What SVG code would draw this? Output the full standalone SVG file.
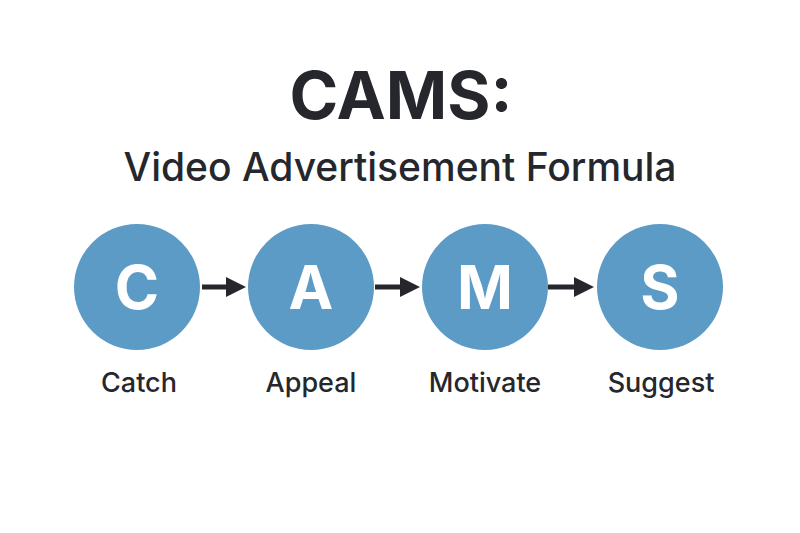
<svg xmlns="http://www.w3.org/2000/svg" width="800" height="533" viewBox="0 0 800 533">
<style>
text{font-family:Inter,"Liberation Sans",sans-serif;fill:#25272c;text-anchor:middle}
.c{fill:#5b9bc5}
.l{fill:#fff;font-size:60px;font-weight:700}
.n{font-size:27px;font-weight:500}
.a{stroke:#25272c;stroke-width:5}
</style>
<defs><marker id="h" markerWidth="4" markerHeight="4" refX="2" refY="2" orient="auto"><path d="M0,0L4,2L0,4z" fill="#25272c"/></marker></defs>
<rect width="800" height="533" fill="#fff"/>
<text x="401" y="119" font-size="66" font-weight="700">CAMS:</text>
<text x="400" y="181" font-size="39" font-weight="500">Video Advertisement Formula</text>
<g id="connectors">
<line class="a" x1="202" y1="287" x2="236" y2="287" marker-end="url(#h)"/>
<line class="a" x1="375" y1="287" x2="410" y2="287" marker-end="url(#h)"/>
<line class="a" x1="548" y1="287" x2="584" y2="287" marker-end="url(#h)"/>
</g>
<g id="catch"><circle class="c" cx="137" cy="287" r="63"/><text class="l" x="137" y="309">C</text><text class="n" x="139" y="392">Catch</text></g>
<g id="appeal"><circle class="c" cx="311" cy="287" r="63"/><text class="l" x="311" y="309">A</text><text class="n" x="311" y="392">Appeal</text></g>
<g id="motivate"><circle class="c" cx="485" cy="287" r="63"/><text class="l" x="485" y="309">M</text><text class="n" x="485" y="392">Motivate</text></g>
<g id="suggest"><circle class="c" cx="660" cy="287" r="63"/><text class="l" x="660" y="309">S</text><text class="n" x="661" y="392">Suggest</text></g>
</svg>
